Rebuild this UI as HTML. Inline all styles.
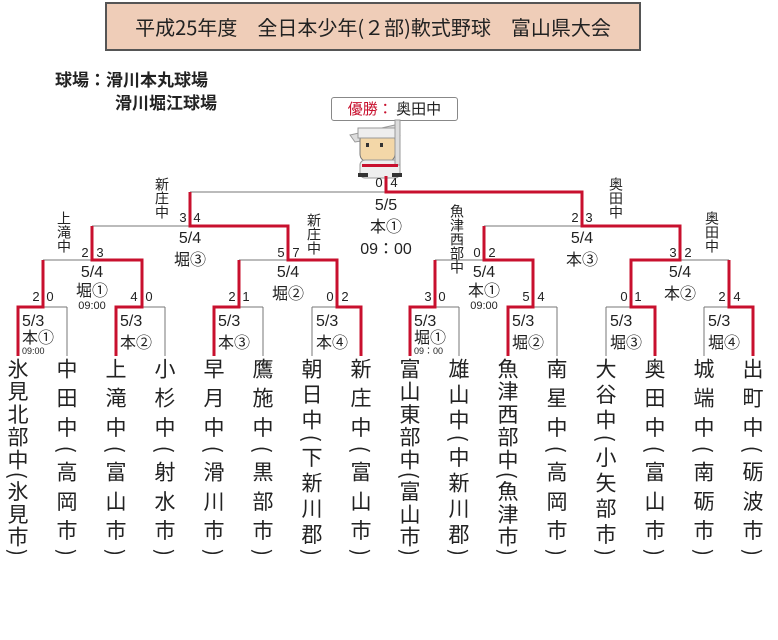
<!DOCTYPE html>
<html><head><meta charset="utf-8"><style>
body{margin:0;background:#fff;}
#w{position:relative;width:778px;height:640px;overflow:hidden;font-family:"Liberation Sans","Noto Sans CJK JP",sans-serif;color:#222;}
.t{position:absolute;}
.col{position:absolute;top:358px;height:198px;width:24px;writing-mode:vertical-rl;font-size:21px;line-height:24px;text-align:justify;text-align-last:justify;font-family:"Noto Sans CJK JP",sans-serif;color:#222;}
.v{position:absolute;writing-mode:vertical-rl;font-size:14px;line-height:15px;font-family:"Noto Sans CJK JP",sans-serif;}
</style></head><body><div id="w">
<div class="t" style="left:105px;top:2px;width:532px;height:45px;background:#efcdb8;border:2px solid #555;font-size:20px;line-height:45px;text-align:center;font-family:'Noto Sans CJK JP',sans-serif;">平成25年度　全日本少年(２部)軟式野球　富山県大会</div>
<div class="t" style="left:55px;top:67px;font-size:17px;font-weight:bold;font-family:'Noto Sans CJK JP',sans-serif;line-height:23px;">球場：滑川本丸球場<br><span style="padding-left:60px">滑川堀江球場</span></div>
<div class="t" style="left:331px;top:97px;width:125px;height:22px;border:1px solid #888;border-radius:3px;background:#fff;font-size:15px;line-height:22px;font-family:'Noto Sans CJK JP',sans-serif;text-align:center;"><span style="color:#c8102e">優勝：</span> 奥田中</div>
<svg class="t" style="left:0;top:0" width="778" height="640">
<g>
<path d="M350 135 L395 125 L400 135 L355 142Z" fill="#ddd" stroke="#999"/>
<rect x="360" y="132" width="35" height="30" rx="8" fill="#f3d7a8" stroke="#777"/>
<rect x="358" y="128" width="38" height="10" fill="#eee" stroke="#999"/>
<rect x="366" y="143" width="3" height="4" fill="#333"/><rect x="380" y="143" width="3" height="4" fill="#333"/>
<rect x="360" y="160" width="40" height="18" rx="5" fill="#eee" stroke="#999"/>
<rect x="395" y="120" width="5" height="45" fill="#ddd" stroke="#999"/>
<rect x="362" y="164" width="36" height="3" fill="#c8102e"/>
<rect x="358" y="173" width="10" height="4" fill="#333"/><rect x="392" y="173" width="10" height="4" fill="#333"/>
</g>
<g fill="none" stroke="#777" stroke-width="1">
<path d="M67 307V356 M165 307V356 M263 307V356 M312 307V356 M459 307V356 M557 307V356 M606 307V356 M704 307V356"/>
<path d="M43 307H67 M142 307H165 M239 307H263 M312 307H337 M435 307H459 M533 307H557 M606 307H631 M704 307H729"/>
<path d="M43 260H92 M239 260H288 M435 260H484 M680 260H729"/>
<path d="M92 226H190 M484 226H582"/>
<path d="M190 192H386"/>
</g>
<g fill="none" stroke="#c8102e" stroke-width="3">
<path d="M18 356V307H43V260"/>
<path d="M116 356V307H142V260H92V226"/>
<path d="M214 356V307H239V260"/>
<path d="M361 356V307H337V260H288V226H190V192"/>
<path d="M410 356V307H435V260"/>
<path d="M508 356V307H533V260H484V226"/>
<path d="M655 356V307H631V260H680V226H582V192H386V176"/>
<path d="M753 356V307H729V260"/>
</g>
<g font-size="13" font-family="Liberation Sans,sans-serif" fill="#222" text-anchor="middle">
<text x="36" y="301">2</text><text x="50" y="301">0</text>
<text x="134" y="301">4</text><text x="149" y="301">0</text>
<text x="232" y="301">2</text><text x="246" y="301">1</text>
<text x="330" y="301">0</text><text x="345" y="301">2</text>
<text x="428" y="301">3</text><text x="442" y="301">0</text>
<text x="526" y="301">5</text><text x="541" y="301">4</text>
<text x="624" y="301">0</text><text x="638" y="301">1</text>
<text x="722" y="301">2</text><text x="737" y="301">4</text>
<text x="85" y="257">2</text><text x="100" y="257">3</text>
<text x="281" y="257">5</text><text x="296" y="257">7</text>
<text x="477" y="257">0</text><text x="492" y="257">2</text>
<text x="673" y="257">3</text><text x="688" y="257">2</text>
<text x="183" y="222">3</text><text x="197" y="222">4</text>
<text x="575" y="222">2</text><text x="589" y="222">3</text>
<text x="379" y="187">0</text><text x="394" y="187">4</text>
</g>
<g font-size="16" font-family="Liberation Sans,Noto Sans CJK JP,sans-serif" fill="#222" text-anchor="middle">
<text x="92" y="277">5/4</text><text x="92" y="296">堀①</text><text x="92" y="309" font-size="11">09:00</text>
<text x="288" y="277">5/4</text><text x="288" y="299">堀②</text>
<text x="484" y="277">5/4</text><text x="484" y="296">本①</text><text x="484" y="309" font-size="11">09:00</text>
<text x="680" y="277">5/4</text><text x="680" y="299">本②</text>
<text x="190" y="243">5/4</text><text x="190" y="265">堀③</text>
<text x="582" y="243">5/4</text><text x="582" y="265">本③</text>
<text x="386" y="210">5/5</text><text x="386" y="232">本①</text><text x="386" y="254">09：00</text>
</g>
<g font-size="16" font-family="Liberation Sans,Noto Sans CJK JP,sans-serif" fill="#222">
<text x="22" y="326">5/3</text><text x="22" y="343">本①</text><text x="22" y="354" font-size="9">09:00</text>
<text x="120" y="326">5/3</text><text x="120" y="348">本②</text>
<text x="218" y="326">5/3</text><text x="218" y="348">本③</text>
<text x="316" y="326">5/3</text><text x="316" y="348">本④</text>
<text x="414" y="326">5/3</text><text x="414" y="343">堀①</text><text x="414" y="354" font-size="9">09：00</text>
<text x="512" y="326">5/3</text><text x="512" y="348">堀②</text>
<text x="610" y="326">5/3</text><text x="610" y="348">堀③</text>
<text x="708" y="326">5/3</text><text x="708" y="348">堀④</text>
</g>
</svg>
<div class="v" style="left:154px;top:177px;">新庄中</div>
<div class="v" style="left:56px;top:211px;">上滝中</div>
<div class="v" style="left:306px;top:213px;">新庄中</div>
<div class="v" style="left:449px;top:204px;">魚津西部中</div>
<div class="v" style="left:608px;top:177px;">奥田中</div>
<div class="v" style="left:704px;top:211px;">奥田中</div>
<div class="col" style="left:6px">氷見北部中(氷見市)</div>
<div class="col" style="left:55px">中田中(高岡市)</div>
<div class="col" style="left:104px">上滝中(富山市)</div>
<div class="col" style="left:153px">小杉中(射水市)</div>
<div class="col" style="left:202px">早月中(滑川市)</div>
<div class="col" style="left:251px">鷹施中(黒部市)</div>
<div class="col" style="left:300px">朝日中(下新川郡)</div>
<div class="col" style="left:349px">新庄中(富山市)</div>
<div class="col" style="left:398px">富山東部中(富山市)</div>
<div class="col" style="left:447px">雄山中(中新川郡)</div>
<div class="col" style="left:496px">魚津西部中(魚津市)</div>
<div class="col" style="left:545px">南星中(高岡市)</div>
<div class="col" style="left:594px">大谷中(小矢部市)</div>
<div class="col" style="left:643px">奥田中(富山市)</div>
<div class="col" style="left:692px">城端中(南砺市)</div>
<div class="col" style="left:741px">出町中(砺波市)</div>
</div></body></html>
